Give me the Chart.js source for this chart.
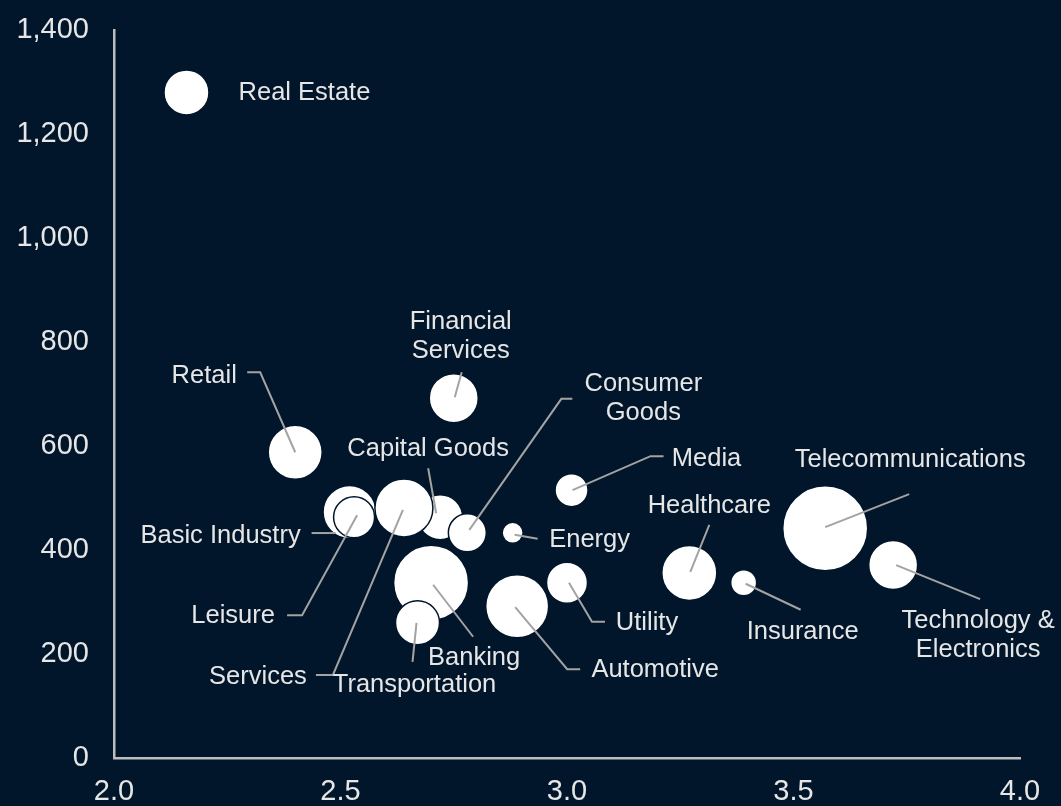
<!DOCTYPE html>
<html>
<head>
<meta charset="utf-8">
<script src="https://cdn.jsdelivr.net/npm/chart.js@4.4.1/dist/chart.umd.min.js"></script>
<style>
    html, body { margin: 0; padding: 0; background: #01162b; }
    #wrap { width: 1061px; height: 806px; }
</style>
</head>
<body>
<div id="wrap"><canvas id="sectorChart" width="1061" height="806"></canvas></div>
<script>
// sector values
const sectors = [
    `Real Estate`, `Retail`, `Financial\nServices`, `Basic Industry`, `Leisure`,
    `Capital Goods`, `Services`, `Consumer\nGoods`, `Energy`, `Media`,
    `Banking`, `Transportation`, `Automotive`, `Utility`, `Healthcare`,
    `Insurance`, `Telecommunications`, `Technology &\nElectronics`
];
const xValues = [2.16, 2.40, 2.75, 2.52, 2.53, 2.72, 2.64, 2.78, 2.88, 3.01, 2.70, 2.67, 2.89, 3.00, 3.27, 3.39, 3.57, 3.72];
const yValues = [1280, 588, 692, 473, 463, 463, 481, 433, 433, 515, 337, 260, 292, 337, 356, 337, 442, 371];
const bubbleSizes = [22.5, 27, 24.5, 26.5, 20.5, 22.5, 29, 19, 10.5, 16.5, 37.5, 22, 31.5, 20.5, 27.5, 13, 42.5, 24.5];

const xTicks = [2.0, 2.5, 3.0, 3.5, 4.0];
const yTicks = [0, 200, 400, 600, 800, 1000, 1200, 1400];

// label placement, pixel offsets from each bubble centre
const labelOffsets = [
    [118, 1], [-91, -76], [7, -62], [-129, 24], [-121, 99],
    [-12, -68], [-146, 169], [176, -134], [77, 7], [135, -31],
    [43, 75], [-3, 62], [138, 64], [80, 40], [20, -67],
    [59, 49], [85, -68], [85, 70]
];
const leaderPaths = [
    [],
    [[0, 0], [-35, -80], [-48, -80]],
    [[1, -1], [8, -26]],
    [[-14, 21], [-38, 21]],
    [[3, -2], [-52, 98], [-67, 98]],
    [[-4, -4], [-12, -49]],
    [[-1, 2], [-71, 167], [-88, 167]],
    [[2, -3], [94, -134], [105, -134]],
    [[2, 2], [25, 6]],
    [[1, 0], [79, -34], [92, -34]],
    [[2, 2], [42, 54]],
    [[-1, 0], [-5, 39]],
    [[-2, 1], [50, 63], [63, 63]],
    [[2, 0], [25, 39], [38, 39]],
    [[1, -1], [20, -48]],
    [[2, 1], [57, 27]],
    [[0, -1], [84, -34]],
    [[3, 0], [87, 34]]
];

const background = `#01162b`;
const fontFamily = `"Liberation Sans", Arial, sans-serif`;

const bubbleLabels = {
    id: `bubbleLabels`,
    afterDatasetsDraw(chart) {
        const ctx = chart.ctx;
        const points = chart.getDatasetMeta(0).data;
        ctx.save();
        ctx.strokeStyle = `#a3a3a3`;
        ctx.lineWidth = 2;
        ctx.lineJoin = `miter`;
        points.forEach((pt, i) => {
            const path = leaderPaths[i];
            if (!path.length) return;
            ctx.beginPath();
            path.forEach(([dx, dy], j) => {
                if (j === 0) ctx.moveTo(pt.x + dx, pt.y + dy);
                else ctx.lineTo(pt.x + dx, pt.y + dy);
            });
            ctx.stroke();
        });
        ctx.fillStyle = `#e6e6e6`;
        ctx.font = `25.5px ${fontFamily}`;
        ctx.textAlign = `center`;
        ctx.textBaseline = `middle`;
        points.forEach((pt, i) => {
            const lines = sectors[i].split(`\n`);
            const lineHeight = 29;
            const cx = pt.x + labelOffsets[i][0];
            const cy = pt.y + labelOffsets[i][1] - (lines.length - 1) * lineHeight / 2;
            lines.forEach((line, j) => ctx.fillText(line, cx, cy + j * lineHeight));
        });
        ctx.restore();
    }
};

const ctx = document.getElementById(`sectorChart`).getContext(`2d`);
const chart = new Chart(ctx, {
    type: `bubble`,
    data: {
        datasets: [{
            data: sectors.map((s, i) => ({ x: xValues[i], y: yValues[i], r: bubbleSizes[i] })),
            backgroundColor: `#ffffff`,
            borderColor: background,
            borderWidth: 1.5,
            hoverRadius: 0,
            clip: false
        }]
    },
    options: {
        responsive: false,
        animation: false,
        events: [],
        layout: { autoPadding: false, padding: { top: 30, right: 41, left: 0, bottom: 0 } },
        plugins: { legend: { display: false }, tooltip: { enabled: false } },
        scales: {
            x: {
                type: `linear`,
                min: 2,
                max: 4,
                afterBuildTicks: axis => { axis.ticks = xTicks.map(v => ({ value: v })); },
                afterFit: axis => {
                    axis.height = 48;
                    axis.paddingLeft = 0;
                    axis.paddingRight = 0;
                },
                grid: { display: false, drawTicks: false },
                border: { display: true, color: `#bdbdbd`, width: 2.5 },
                ticks: {
                    color: `#e6e6e6`,
                    padding: 17,
                    maxRotation: 0,
                    font: { family: fontFamily, size: 29 },
                    callback: v => Number(v).toFixed(1)
                }
            },
            y: {
                type: `linear`,
                min: 0,
                max: 1400,
                afterBuildTicks: axis => { axis.ticks = yTicks.map(v => ({ value: v })); },
                afterFit: axis => {
                    axis.width = 114;
                    axis.paddingTop = 0;
                    axis.paddingBottom = 0;
                },
                grid: { display: false, drawTicks: false },
                border: { display: true, color: `#bdbdbd`, width: 2.5 },
                ticks: {
                    color: `#e6e6e6`,
                    padding: 25,
                    font: { family: fontFamily, size: 29 },
                    callback: v => v.toLocaleString(`en-US`)
                }
            }
        }
    },
    plugins: [bubbleLabels]
});
</script>
</body>
</html>
